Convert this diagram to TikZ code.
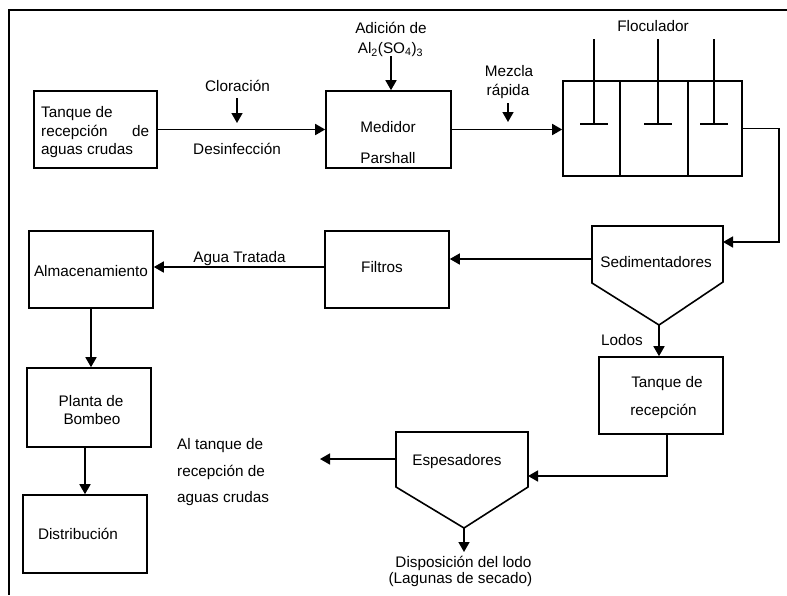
\documentclass[tikz,border=0pt]{standalone}
\usepackage{fontspec}
\setmainfont{Liberation Sans}
\usetikzlibrary{arrows.meta}

\tikzset{
  box/.style={draw, line width=1.6pt, minimum width=124pt, minimum height=77pt, inner sep=0pt},
  txt/.style={anchor=base, inner sep=0pt},
  line/.style={line width=1.6pt},
  flow/.style={line width=1.6pt, -{Triangle[length=10pt,width=11pt]}},
}

\begin{document}
\begin{tikzpicture}[x=1pt,y=-1pt,font=\fontsize{15.3}{18.5}\selectfont]
\useasboundingbox (0,0) rectangle (787,595);

% marco
\draw[line] (787,10) -- (9,10) -- (9,595);

% linea de agua
\node[box,minimum width=123pt] (tanque) at (95.5,129.5) {};
\node[txt,anchor=base west] (tanquea) at (41,117.5) {Tanque de};
\node[txt,anchor=base west] (tanqueb) at (41,136) {\makebox[108pt][s]{recepción de}};
\node[txt,anchor=base west] (tanquec) at (41,154.5) {aguas crudas};

\node[box,minimum width=125pt] (medidor) at (388.5,129.5) {};
\node[txt] (medidora) at (388,132) {Medidor};
\node[txt] (medidorb) at (388,163) {Parshall};

\node[box,minimum width=179pt,minimum height=95pt] (floc) at (652.5,128.5) {};
\node[txt] (floctxt) at (653,31) {Floculador};
\draw[line] (620,81) -- (620,176);
\draw[line] (688,81) -- (688,176);
\foreach \px in {594,658,714}
  \draw[line] (\px,39) -- (\px,124) (\px-14,124) -- (\px+14,124);

\node[txt] (clor) at (237.5,91) {Cloración};
\node[txt] (desinf) at (237,154) {Desinfección};
\coordinate (clorA) at (237,98);
\draw[flow] (tanque.east) -- (medidor.west);
\draw[flow] (clorA) -- ++(0,25);

\node[txt] (adicion) at (391,33.5) {Adición de};
\node[txt] (sulfato) at (390.5,53.5) {Al\textsubscript{2}(SO\textsubscript{4})\textsubscript{3}};
\coordinate (sulfA) at (391,56);
\draw[flow] (sulfA) -- (sulfA |- medidor.north);

\node[txt] (mezcla) at (509,76) {Mezcla};
\node[txt] (rapida) at (508,95.5) {rápida};
\coordinate (mezA) at (508,103);
\draw[flow] (mezA) -- ++(0,19);
\draw[flow] (medidor.east) -- (medidor.east -| floc.west);

% sedimentadores
\coordinate (sedtip) at (659,325);
\draw[line] (592,226) -- (723,226) -- (723,282) -- (sedtip) -- (592,283) -- cycle;
\node[txt] (sedtxt) at (656,267.5) {Sedimentadores};
\coordinate (codo) at (779,128.5);
\coordinate (sedR) at (723,242);
\draw[flow] (floc.east) -- (codo) |- (sedR);

\node[box] (filtros) at (387,269.5) {};
\node[txt] (filtrostxt) at (382,272.5) {Filtros};
\coordinate (sedL) at (592,259);
\draw[flow] (sedL) -- (sedL -| filtros.east);

\node[box] (almac) at (91,269.5) {};
\node[txt] (almactxt) at (91,276) {Almacenamiento};
\coordinate (agua) at (325,267);
\draw[flow] (agua) -- (agua -| almac.east);
\node[txt] (aguatxt) at (239.5,262) {Agua Tratada};

\node[box,minimum height=79pt] (planta) at (89,407.5) {};
\node[txt] (plantaa) at (91,406) {Planta de};
\node[txt] (plantab) at (92,424) {Bombeo};
\draw[flow] (almac.south) -- (almac.south |- planta.north);

\node[box,minimum height=78pt] (distrib) at (85,534) {};
\node[txt] (distribtxt) at (78,539) {Distribución};
\draw[flow] (distrib.north |- planta.south) -- (distrib.north);

% lodos
\node[txt] (lodos) at (622,345.3) {Lodos};
\node[box] (tanque2) at (661,395.5) {};
\node[txt] (tanque2a) at (667,387.7) {Tanque de};
\node[txt] (tanque2b) at (663.5,415) {recepción};
\draw[flow] (sedtip) -- (sedtip |- tanque2.north);

\coordinate (esptip) at (464,528);
\draw[line] (396,432) -- (528,432) -- (528,487) -- (esptip) -- (396,487) -- cycle;
\node[txt] (esptxt) at (457,465) {Espesadores};
\coordinate (espR) at (528,476);
\draw[flow] ([xshift=6pt]tanque2.south) |- (espR);

\coordinate (espL) at (396,459);
\coordinate (retorno) at (320,459);
\draw[flow] (espL) -- (retorno);
\node[txt,anchor=base west] (retornoa) at (177,449) {Al tanque de};
\node[txt,anchor=base west] (retornob) at (177,476) {recepción de};
\node[txt,anchor=base west] (retornoc) at (177,502.5) {aguas crudas};

\draw[flow] (esptip) -- ++(0,24);
\node[txt] (disposicion) at (463.5,567.7) {Disposición del lodo};
\node[txt] (lagunas) at (460.5,583) {(Lagunas de secado)};

\end{tikzpicture}
\end{document}
